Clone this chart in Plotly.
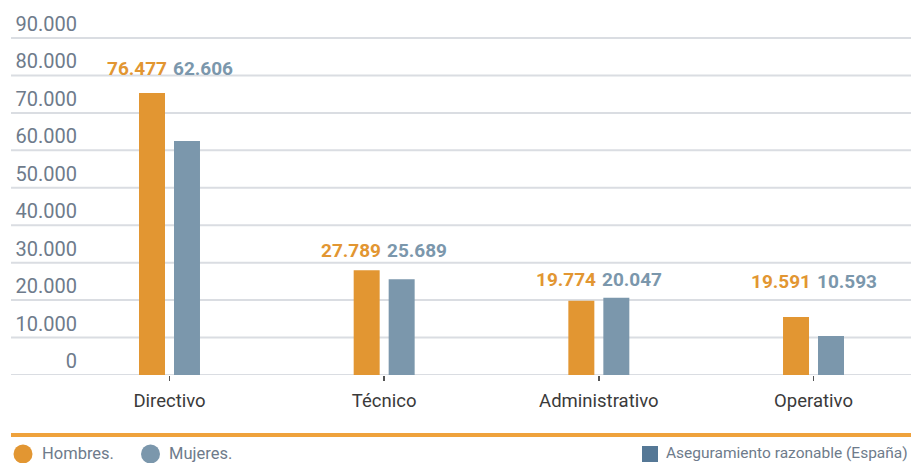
import plotly.graph_objects as go

categories = ["Directivo", "Técnico", "Administrativo", "Operativo"]
# bar heights as drawn in the chart
hombres_bar = [75300, 28000, 19800, 15500]
mujeres_bar = [62500, 25600, 20600, 10400]
# printed values above bars
hombres_label = [76477, 27789, 19774, 19591]
mujeres_label = [62606, 25689, 20047, 10593]
tick_vals = [0, 10000, 20000, 30000, 40000, 50000, 60000, 70000, 80000, 90000]
legend_labels = ["Hombres.", "Mujeres."]
note_label = "Aseguramiento razonable (España)"

ORANGE = "#E29632"
BLUE = "#7B97AC"
GRID = "#DADDE2"
TICKC = "#6E7B8B"

W, H = 911, 463
L, R, T, B = 84, 0, 10, 88
PW, PH = W - L - R, H - T - B


def px2x(px):
    return (px - L) / PW


def py2y(py):
    return (H - B - py) / PH


def fmt(v):
    return f"{v:,}".replace(",", ".")


fig = go.Figure()
fig.add_trace(go.Bar(x=categories, y=hombres_bar, name=legend_labels[0],
                     marker=dict(color=ORANGE, line=dict(width=0)), showlegend=False,
                     hoverinfo="skip"))
fig.add_trace(go.Bar(x=categories, y=mujeres_bar, name=legend_labels[1],
                     marker=dict(color=BLUE, line=dict(width=0)), showlegend=False,
                     hoverinfo="skip"))

shapes = []
for v in tick_vals:
    shapes.append(dict(type="line", xref="paper", yref="y", x0=px2x(11), x1=1,
                       y0=v, y1=v, line=dict(color=GRID, width=2), layer="below"))
# orange separator
shapes.append(dict(type="line", xref="paper", yref="paper", x0=px2x(11), x1=1,
                   y0=py2y(435), y1=py2y(435), line=dict(color="#EFA23C", width=4)))
# legend markers
LEG_Y = 453
for cx, col in [(23, ORANGE), (150.5, BLUE)]:
    shapes.append(dict(type="circle", xref="paper", yref="paper",
                       xsizemode="pixel", ysizemode="pixel",
                       xanchor=px2x(cx), yanchor=py2y(LEG_Y + 1),
                       x0=-9.5, x1=9.5, y0=-9.5, y1=9.5,
                       fillcolor=col, line=dict(width=0)))
shapes.append(dict(type="rect", xref="paper", yref="paper",
                   xsizemode="pixel", ysizemode="pixel",
                   xanchor=px2x(650), yanchor=py2y(LEG_Y + 1),
                   x0=-8, x1=8, y0=-8, y1=8,
                   fillcolor="#557896", line=dict(width=0)))

annotations = []
for i, c in enumerate(categories):
    top = max(hombres_label[i], mujeres_label[i])
    annotations.append(dict(x=c, y=top, xref="x", yref="y", text=f"<b>{fmt(hombres_label[i])}</b>",
                            showarrow=False, xanchor="right", yanchor="middle", xshift=-1, yshift=20,
                            font=dict(family="Roboto", size=19, color=ORANGE)))
    annotations.append(dict(x=c, y=top, xref="x", yref="y", text=f"<b>{fmt(mujeres_label[i])}</b>",
                            showarrow=False, xanchor="left", yanchor="middle", xshift=1, yshift=20,
                            font=dict(family="Roboto", size=19, color=BLUE)))

for txt, px in [(legend_labels[0], 40), (legend_labels[1], 167)]:
    annotations.append(dict(x=px2x(px), y=py2y(LEG_Y), xref="paper", yref="paper", text=txt,
                            showarrow=False, xanchor="left", yanchor="middle",
                            font=dict(family="Roboto", size=16.5, color=TICKC)))
annotations.append(dict(x=1, y=py2y(LEG_Y), xref="paper", yref="paper", text=note_label,
                        showarrow=False, xanchor="right", yanchor="middle", xshift=-1,
                        font=dict(family="Roboto", size=15.5, color=TICKC)))

cat_px = 214.67
x_lo = (L - 169.5) / cat_px
x_hi = (W - R - 169.5) / cat_px
y_hi = PH / 37.44 * 10000

fig.update_layout(
    width=W, height=H, autosize=False,
    margin=dict(l=L, r=R, t=T, b=B, pad=0),
    paper_bgcolor="white", plot_bgcolor="white",
    barmode="group", bargap=0.674, bargroupgap=0.257,
    separators=",.",
    shapes=shapes, annotations=annotations,
    font=dict(family="Roboto"),
    hovermode=False,
    xaxis=dict(range=[x_lo, x_hi], showgrid=False, zeroline=False, showline=False,
               ticks="outside", ticklen=5, tickwidth=1.5, tickcolor="#555555",
               ticklabelstandoff=4, fixedrange=True,
               tickfont=dict(family="Roboto", size=18.5, color="#3A3A3A")),
    yaxis=dict(range=[0, y_hi], tickvals=tick_vals, tickformat=",.0f",
               showgrid=False, zeroline=False, showline=False, ticks="",
               ticklabelshift=-14, ticklabelstandoff=6, fixedrange=True,
               tickfont=dict(family="Roboto", size=20, color=TICKC)),
)

fig.write_html("out.html", config={"displayModeBar": False, "staticPlot": True},
               post_script="document.body.style.margin='0';document.body.style.overflow='hidden';")
